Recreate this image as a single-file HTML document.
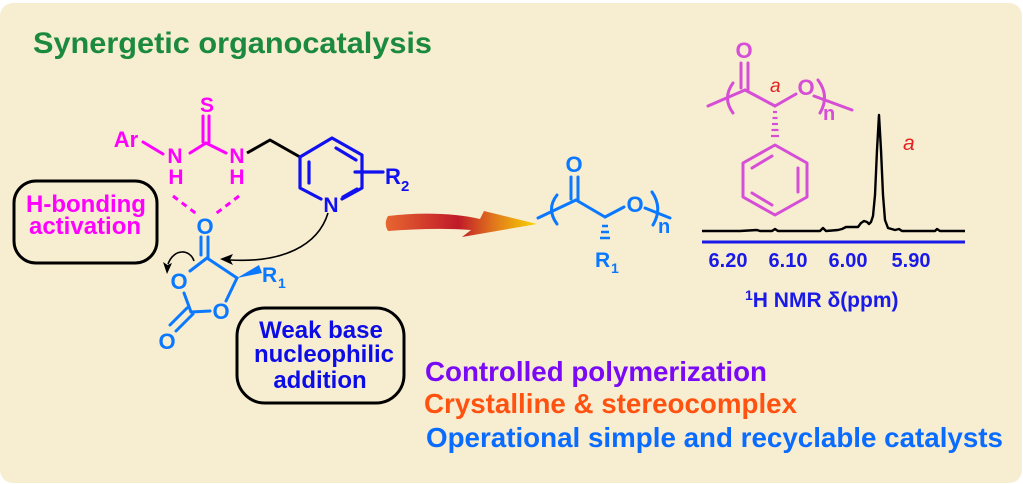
<!DOCTYPE html>
<html>
<head>
<meta charset="utf-8">
<style>
  html,body{margin:0;padding:0;background:#ffffff;}
  svg{display:block;}
  text{font-family:"Liberation Sans", Arial, sans-serif;}
</style>
</head>
<body>
<svg width="1023" height="484" viewBox="0 0 1023 484" xmlns="http://www.w3.org/2000/svg">
  <defs>
    <linearGradient id="arr" gradientUnits="userSpaceOnUse" x1="388" y1="0" x2="537" y2="0">
      <stop offset="0" stop-color="#e6642f"/>
      <stop offset="0.47" stop-color="#c01a2a"/>
      <stop offset="0.72" stop-color="#e27a1c"/>
      <stop offset="1" stop-color="#f8d600"/>
    </linearGradient>
  </defs>

  <!-- card -->
  <rect x="0" y="3" width="1022" height="480" rx="13" ry="13" fill="#f7edd1"/>

  <!-- title -->
  <text x="33" y="53" font-size="30" font-weight="bold" fill="#1b8a3e" textLength="399" lengthAdjust="spacingAndGlyphs">Synergetic organocatalysis</text>

  <!-- ===== Thiourea (magenta) ===== -->
  <g stroke="#ff00ff" stroke-width="3" fill="none" stroke-linecap="round">
    <line x1="203" y1="116" x2="203" y2="142"/>
    <line x1="209" y1="116" x2="209" y2="142"/>
    <line x1="206" y1="143" x2="190" y2="153"/>
    <line x1="206" y1="143" x2="226" y2="153"/>
    <line x1="143" y1="142" x2="163" y2="154"/>
  </g>
  <g fill="#ff00ff" font-weight="bold" font-size="21" text-anchor="middle">
    <text x="207" y="112">S</text>
    <text x="175" y="163">N</text>
    <text x="176" y="184">H</text>
    <text x="237" y="163">N</text>
    <text x="237" y="184">H</text>
    <text x="126" y="147" font-size="22">Ar</text>
  </g>
  <!-- H-bond dashes -->
  <g stroke="#ff00ff" stroke-width="3" stroke-dasharray="6,5" fill="none">
    <line x1="173" y1="196" x2="198" y2="215"/>
    <line x1="239" y1="196" x2="214" y2="215"/>
  </g>

  <!-- black linker -->
  <polyline points="247,153 270,140 300,157" stroke="#000" stroke-width="3" fill="none" stroke-linejoin="round"/>

  <!-- ===== Pyridine (blue) ===== -->
  <g stroke="#1010f0" stroke-width="3.2" fill="none" stroke-linecap="round" stroke-linejoin="round">
    <polyline points="321,199 300,188 300,157 332,138 362,155 362,188 342,199"/>
    <line x1="309" y1="162" x2="309" y2="183"/>
    <line x1="336" y1="148" x2="356" y2="160"/>
    <line x1="343" y1="197" x2="357" y2="189"/>
    <line x1="355" y1="172" x2="383" y2="172"/>
  </g>
  <g fill="#1010f0" font-weight="bold">
    <text x="331" y="212" font-size="21" text-anchor="middle">N</text>
    <text x="385" y="184" font-size="22">R</text>
    <text x="401" y="191" font-size="15">2</text>
  </g>

  <!-- curved arrow from N -->
  <path d="M328,213 C318,246 282,263 230,260" stroke="#000" stroke-width="1.6" fill="none"/>
  <polygon points="220,259 233,254 230,259.5 233,265" fill="#000"/>
  <!-- small curved arrow -->
  <path d="M194,261 C190,249 174,248 168,264" stroke="#000" stroke-width="1.6" fill="none"/>
  <polygon points="167,274 163,262 167.5,265 172,263" fill="#000"/>

  <!-- ===== Lactone monomer (light blue) ===== -->
  <g stroke="#0a78ff" stroke-width="3" fill="none" stroke-linecap="round" stroke-linejoin="round">
    <line x1="201" y1="237" x2="201" y2="255"/>
    <line x1="208" y1="237" x2="208" y2="258"/>
    <line x1="207" y1="258" x2="190" y2="271"/>
    <line x1="184" y1="293" x2="191" y2="312"/>
    <line x1="191" y1="312" x2="210" y2="311"/>
    <line x1="226" y1="301" x2="237" y2="278"/>
    <line x1="237" y1="278" x2="207" y2="258"/>
    <line x1="193" y1="314" x2="176" y2="331"/>
    <line x1="187" y1="308" x2="170" y2="325"/>
  </g>
  <polygon points="237,278 259,265 262,273" fill="#0a78ff"/>
  <g fill="#0a78ff" font-size="22" font-weight="bold" text-anchor="middle">
    <text x="205" y="234">O</text>
    <text x="179" y="289">O</text>
    <text x="221" y="319">O</text>
    <text x="167" y="349">O</text>
  </g>
  <g fill="#0a78ff" font-weight="bold">
    <text x="262" y="282" font-size="21">R</text>
    <text x="278" y="288" font-size="14">1</text>
  </g>

  <!-- H-bonding box -->
  <rect x="14" y="181" width="143" height="82" rx="22" ry="22" fill="none" stroke="#000" stroke-width="3"/>
  <g fill="#ff00ff" font-weight="bold" font-size="24" text-anchor="middle">
    <text x="86" y="212">H-bonding</text>
    <text x="85" y="234">activation</text>
  </g>

  <!-- Weak base box -->
  <rect x="237" y="308" width="167" height="95" rx="28" ry="28" fill="none" stroke="#000" stroke-width="3"/>
  <g fill="#0c0ce6" font-weight="bold" font-size="24" text-anchor="middle">
    <text x="321" y="338">Weak base</text>
    <text x="324" y="362">nucleophilic</text>
    <text x="320" y="388">addition</text>
  </g>

  <!-- big gradient arrow -->
  <path d="M388,216 C420,212 455,213 480,219 L484,211 L537,224 L462,237 L471,230 C445,228 415,229 388,231 C385,226 385,221 388,216 Z" fill="url(#arr)"/>

  <!-- ===== Polymer product (blue) ===== -->
  <g stroke="#0a78ff" stroke-width="3" fill="none" stroke-linecap="round" stroke-linejoin="round">
    <line x1="538" y1="218" x2="576" y2="200"/>
    <path d="M557,195 Q546,209 557,224"/>
    <line x1="571" y1="177" x2="571" y2="199"/>
    <line x1="578" y1="177" x2="578" y2="201"/>
    <line x1="576" y1="200" x2="605" y2="217"/>
    <line x1="605" y1="217" x2="624" y2="207"/>
    <line x1="645" y1="208" x2="670" y2="218"/>
    <path d="M652,192 Q663,208 653,225"/>
  </g>
  <g stroke="#0a78ff" stroke-width="2.5">
    <line x1="602" y1="226" x2="608" y2="226"/>
    <line x1="601" y1="232" x2="609" y2="232"/>
    <line x1="600" y1="238" x2="610" y2="238"/>
  </g>
  <g fill="#0a78ff" font-weight="bold">
    <text x="574" y="172" font-size="22" text-anchor="middle">O</text>
    <text x="635" y="212" font-size="22" text-anchor="middle">O</text>
    <text x="595" y="267" font-size="21">R</text>
    <text x="611" y="273" font-size="14">1</text>
    <text x="658" y="233" font-size="20">n</text>
  </g>

  <!-- ===== Right polymer (orchid) ===== -->
  <g stroke="#d64ed6" stroke-width="3" fill="none" stroke-linecap="round" stroke-linejoin="round">
    <line x1="741" y1="63" x2="741" y2="88"/>
    <line x1="748" y1="63" x2="748" y2="90"/>
    <line x1="708" y1="106" x2="745" y2="90"/>
    <path d="M733,83 Q722,98 733,113"/>
    <line x1="745" y1="90" x2="775" y2="106"/>
    <line x1="775" y1="106" x2="796" y2="94"/>
    <line x1="814" y1="96" x2="852" y2="110"/>
    <path d="M818,80 Q830,96 820,113"/>
    <polygon points="775,145 807,163 807,197 775,215 743,197 743,163"/>
    <line x1="752" y1="168" x2="772" y2="156"/>
    <line x1="798" y1="168" x2="798" y2="192"/>
    <line x1="752" y1="193" x2="772" y2="205"/>
  </g>
  <g stroke="#d64ed6" stroke-width="2.2">
    <line x1="773" y1="112" x2="777" y2="112"/>
    <line x1="772.5" y1="118" x2="777.5" y2="118"/>
    <line x1="772" y1="124" x2="778" y2="124"/>
    <line x1="771.5" y1="130" x2="778.5" y2="130"/>
    <line x1="771" y1="136" x2="779" y2="136"/>
  </g>
  <g fill="#d64ed6" font-weight="bold">
    <text x="744" y="58" font-size="22" text-anchor="middle">O</text>
    <text x="806" y="95" font-size="22" text-anchor="middle">O</text>
    <text x="823" y="120" font-size="20">n</text>
  </g>
  <text x="770" y="92" font-size="19" font-style="italic" fill="#e62020">a</text>
  <text x="903" y="150" font-size="21" font-style="italic" fill="#e62020">a</text>

  <!-- spectrum -->
  <polyline fill="none" stroke="#000" stroke-width="2.4" stroke-linejoin="round"
    points="702,231 740,231 757,230 760,231 772,231 775,229 778,231 820,231 823,228 826,231 838,230 842,229 846,227 852,227 858,227 861,223 864,221 867,222 869,224 871,222 873,216 875,195 877,150 879,115 881,150 883,195 885,220 888,228 895,230 899,229 902,231 935,231 937,229 940,231 965,231"/>
  <!-- axis -->
  <line x1="702" y1="242" x2="965" y2="242" stroke="#1a1ae6" stroke-width="3"/>
  <g fill="#1a1ae6" font-weight="bold" font-size="20" text-anchor="middle">
    <text x="728" y="267">6.20</text>
    <text x="788" y="267">6.10</text>
    <text x="848" y="267">6.00</text>
    <text x="911" y="267">5.90</text>
  </g>
  <text x="745" y="307" font-size="21" font-weight="bold" fill="#1a1ae6"><tspan font-size="14" dy="-7">1</tspan><tspan dy="7">H NMR δ(ppm)</tspan></text>

  <!-- bottom bullets -->
  <text x="425" y="381" font-size="28" font-weight="bold" fill="#7a0af5" textLength="342" lengthAdjust="spacingAndGlyphs">Controlled polymerization</text>
  <text x="424" y="413" font-size="28" font-weight="bold" fill="#ff5210" textLength="373" lengthAdjust="spacingAndGlyphs">Crystalline &amp; stereocomplex</text>
  <text x="426" y="447" font-size="28" font-weight="bold" fill="#0a6cff" textLength="577" lengthAdjust="spacingAndGlyphs">Operational simple and recyclable catalysts</text>
</svg>
</body>
</html>
